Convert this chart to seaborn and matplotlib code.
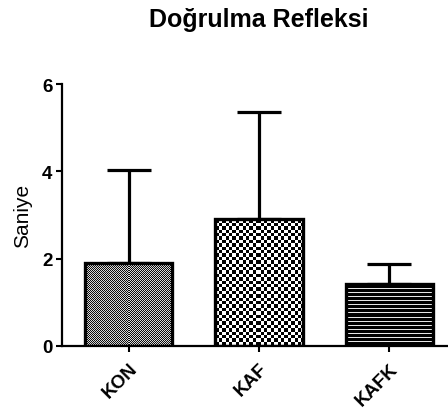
import numpy as np
import pandas as pd
import matplotlib
matplotlib.use("Agg")
import matplotlib.pyplot as plt
import seaborn as sns

groups = ["KON", "KAF", "KAFK"]
means = [1.90, 2.90, 1.43]
sds = [2.12, 2.45, 0.45]
textures = ["fine", "checker", "hlines"]

sns.set_style("ticks")
plt.rcParams["font.family"] = ["Liberation Sans", "DejaVu Sans"]
plt.rcParams["text.color"] = "black"
plt.rcParams["axes.labelcolor"] = "black"

fig = plt.figure(figsize=(4.48, 4.10), dpi=100)
ax = fig.add_axes([62 / 448, 63 / 410, 386 / 448, 262 / 410])

df = pd.DataFrame({"group": groups, "value": means})
sns.barplot(data=df, x="group", y="value", color="white", edgecolor="black",
            linewidth=2.4, width=0.67, errorbar=None, ax=ax, zorder=3)

ax.set_xlim(-0.51, 2.45)
ax.set_ylim(0, 6)

ax.errorbar(range(len(groups)), means, yerr=[np.zeros(len(sds)), sds], fmt="none",
            ecolor="black", elinewidth=2.3, capsize=15.5, capthick=2.3, zorder=2)

def make_texture(kind, wpx, hpx):
    nx = max(int(round(wpx)), 1)
    ny = max(int(round(hpx)), 1)
    yy, xx = np.mgrid[0:ny, 0:nx]
    if kind == "hlines":
        img = np.where((yy % 4) == 1, 0.9, 0.0)
    elif kind == "fine":
        img = np.where((xx + yy) % 2 == 0, 0.05, 0.85)
    else:
        cell = 3.4
        img = np.where(((np.floor(xx / cell) + np.floor(yy / cell)) % 2) == 0, 0.0, 1.0)
    return img

for patch, kind in zip(ax.patches, textures):
    x0, y0 = patch.get_x(), patch.get_y()
    w, h = patch.get_width(), patch.get_height()
    p0 = ax.transData.transform((x0, y0))
    p1 = ax.transData.transform((x0 + w, y0 + h))
    img = make_texture(kind, abs(p1[0] - p0[0]), abs(p1[1] - p0[1]))
    im = ax.imshow(img, cmap="gray", vmin=0, vmax=1, extent=(x0, x0 + w, y0, y0 + h),
                   origin="upper", interpolation="nearest", aspect="auto", zorder=2.5)
    im.set_clip_path(patch)
    patch.set_facecolor("none")

ax.set_xlim(-0.51, 2.45)
ax.set_ylim(0, 6)
ax.set_yticks([0, 2, 4, 6])
ax.set_xlabel("")
ax.set_ylabel("Saniye", fontsize=15, labelpad=7)
ax.set_title("Doğrulma Refleksi", fontsize=18, fontweight="bold", pad=42,
             color="black", x=0.51)

for lab in ax.get_yticklabels():
    lab.set_fontweight("bold")
    lab.set_fontsize(13.5)
for lab in ax.get_xticklabels():
    lab.set_fontweight("bold")
    lab.set_fontsize(13.5)
    lab.set_rotation(45)
    lab.set_ha("right")
    lab.set_rotation_mode("anchor")

ax.tick_params(axis="both", width=1.5, length=4, color="black", labelcolor="black")
ax.tick_params(axis="x", pad=6)
ax.tick_params(axis="y", pad=3)
for s in ["left", "bottom"]:
    ax.spines[s].set_linewidth(1.6)
    ax.spines[s].set_color("black")
sns.despine(ax=ax)

fig.savefig("out.png", dpi=100)
